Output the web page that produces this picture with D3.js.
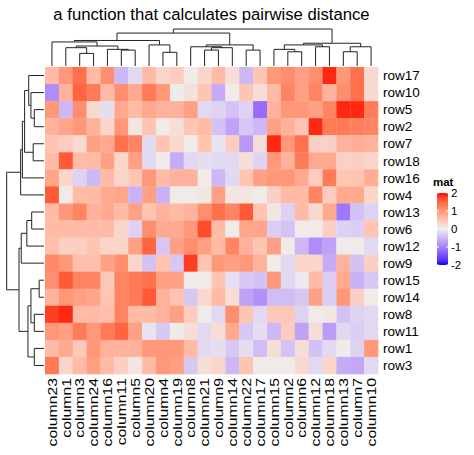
<!DOCTYPE html>
<html>
<head>
<meta charset="utf-8">
<script src="https://cdn.jsdelivr.net/npm/d3@7"></script>
<style>
  body { margin: 0; background: #fff; }
  text { font-family: "Liberation Sans", Arial, Helvetica, sans-serif; fill: #000; }
</style>
</head>
<body>
<svg width="474" height="455"></svg>
<script>
const titleText = 'a function that calculates pairwise distance'

const rowNames = ['row17', 'row10', 'row5', 'row2', 'row7', 'row18', 'row16', 'row4', 'row13',
    'row6', 'row12', 'row9', 'row15', 'row14', 'row8', 'row11', 'row1', 'row3']

const colNames = ['column23', 'column1', 'column3', 'column24', 'column16', 'column11', 'column5',
    'column20', 'column4', 'column19', 'column8', 'column21', 'column9', 'column14', 'column22',
    'column17', 'column15', 'column2', 'column6', 'column12', 'column18', 'column13', 'column7', 'column10']

// one array per row, columns in display order
const values = [
    [0.6, 1.0, 1.4, 0.6, 1.1, -0.5, -0.2, 0.6, 0.3, 0.4, 0.05, 0.3, 0.6, 0.2, -0.5, 0.5, 1.0, 1.1, 0.9, 1.1, 1.9, 1.0, 1.4, 0.25],
    [-0.9, 0.7, 1.5, 1.3, 0.6, 1.1, 0.8, 1.3, 1.0, 0.05, 0.15, 0.5, -0.6, 0.05, 0.5, 0.2, 0.6, 1.2, 0.9, 1.2, 0.7, 1.1, 1.4, 0.25],
    [1.0, -0.5, 1.1, 0.25, -0.15, 0.8, 0.6, 0.8, 0.7, 0.7, 0.9, -0.2, -0.25, -0.4, -0.25, -1.2, 0.7, 1.0, 1.0, 0.9, 1.2, 1.9, 1.9, 1.3],
    [0.7, 0.85, 1.0, 0.7, 0.3, 1.0, 0.1, 0.5, 0.05, 0.2, 0.5, 0.6, -0.4, -0.7, -0.35, -0.5, 0.9, 0.7, 0.5, 1.9, 1.3, 1.3, 1.25, 1.2],
    [0.5, 0.4, 0.25, 0.9, 0.8, 1.4, 1.2, -0.2, 0.5, 0.25, 0.05, 0.5, -0.1, 0.4, -0.8, 0.2, 1.9, 1.0, 1.4, 0.35, 0.35, 0.7, 0.75, 0.7],
    [0.6, 1.6, 0.6, 0.6, 0.9, 0.3, 0.9, -0.2, 0.05, -0.6, -0.2, -0.15, -0.2, -0.2, 0.2, -0.25, 1.0, 0.7, 1.3, 0.8, 0.8, 0.35, 0.35, 0.3],
    [0.85, 0.3, -0.25, -0.5, 0.6, 0.3, 0.5, 1.0, 0.6, 0.7, 0.7, 0.05, -0.5, -0.2, 0.5, 0.9, 1.0, 1.0, 0.8, 0.4, 1.3, 0.5, 0.5, 0.75],
    [1.6, 0.05, 0.6, 0.6, 0.8, 0.85, -0.55, 0.9, -0.55, 0.05, 0.05, 0.1, 0.9, 0.1, 0.1, 0.05, 0.35, 0.6, 0.6, 1.2, 0.4, 0.8, 0.8, 0.3],
    [0.6, 1.0, 1.2, 0.7, 0.8, 0.6, 0.9, 0.5, 0.7, 0.6, 0.7, 1.1, 1.4, 1.2, 1.6, 0.5, 0.1, -0.25, 0.6, 0.25, 0.8, -1.1, -0.4, -0.25],
    [0.6, 0.6, 0.6, 0.6, 0.6, 0.3, -0.25, 1.1, 0.8, 0.8, 1.0, 1.7, 0.6, 0.05, 0.85, 0.85, -0.3, -0.4, 0.05, 0.05, 0.35, -0.25, -0.3, 0.5],
    [0.55, 0.35, 0.35, 0.5, 0.3, 0.3, 0.9, 1.5, -0.35, 0.9, 1.1, 0.9, 0.6, 1.2, 0.7, 0.5, 0.9, 0.05, -0.5, -0.9, -0.7, 0.05, 0.05, -0.2],
    [1.15, 1.0, 0.55, 0.55, 0.9, 1.1, 0.3, -0.4, 0.5, -0.35, 1.8, 0.5, 1.0, 0.9, 1.0, 0.7, 0.05, -0.2, 0.3, 0.3, -0.6, 0.7, -0.4, 0.35],
    [1.1, 1.6, 1.2, 1.2, 0.45, 1.2, 1.3, 1.4, 0.9, 0.9, 0.05, 0.05, 0.5, -0.15, -0.35, -0.4, 1.0, -0.2, -0.05, 0.6, -0.3, 0.8, -0.55, -0.35],
    [0.7, 1.0, 0.9, 0.85, 0.5, 1.2, 1.3, 1.6, 0.7, 0.5, -0.35, 0.25, 0.6, 0.2, -0.7, -0.85, -0.45, -0.45, -0.35, 0.9, -0.3, 1.0, 0.35, 0.05],
    [1.8, 1.9, 0.6, 0.6, 0.55, 1.2, 0.6, 0.6, 0.7, 0.9, 0.4, 0.05, -0.2, 1.1, 0.5, -0.2, 0.45, 0.45, -0.25, 0.05, 0.1, -0.4, -0.25, -0.2],
    [1.0, 0.9, 1.3, 1.0, 1.3, 1.5, 0.9, -0.1, -0.35, 0.05, 0.2, -0.2, 0.2, 0.8, -0.35, -0.15, -0.5, 0.4, -0.7, 0.2, -0.75, -0.2, -0.3, -0.2],
    [0.6, 0.8, 0.45, 1.0, 0.7, 0.7, 0.7, 1.0, 1.0, 1.0, 0.6, -0.2, -0.15, -0.35, -0.15, -0.45, 0.2, -0.4, 0.2, -0.4, -0.2, 0.05, -0.25, 1.0],
    [1.3, 0.3, 0.6, 0.9, 0.6, 0.35, 0.1, 0.6, 1.0, 0.9, -0.35, 0.2, 0.3, -0.5, 0.5, 0.05, 0.05, 0.05, 0.25, -0.2, 0.3, -0.6, -0.65, -0.2]
]

// dendrograms: [height, left, right], leaves are display positions
const colTree = [10,
    [8.9,
        [6.9,
            [6.5, 0, [5.4, [4.95, 1, [3.4, 2, 3]], [4.5, 4, [4.3, 5, 6]]]],
            [5.7, 7, [3.7, 8, 9]]],
        [5.7,
            [5.2, 10, [4.95, [4.3, 11, 12], 13]],
            [4.3, 14, 15]]],
    [6.15,
        [5.7, [4.5, 16, [3.85, 17, 18]], [5.2, 19, 20]],
        [5.2, [3.85, 21, 22], 23]]]

const rowTree = [10,
    [6.26,
        [5.8, [5.2, [4.1, 0, [3.5, 1, [2.6, 2, 3]]], [2.9, 4, 5]], 6],
        7],
    [6.7,
        [6.1, [4.6, [3.3, 8, 9], 10], 11],
        [4.3, [3.5, [1.3, 12, 13], [2.6, 14, 15]], [2.6, 16, 17]]]]

const legendBreaks = [-2, -1, 0, 1, 2]
const legendTitle = 'mat'

const svg = d3.select('svg')
svg.append('rect').attr('width', 474).attr('height', 455).attr('fill', '#fff')

const hmLeft = 45, hmRight = 378, hmTop = 67, hmBottom = 374

const x = d3.scaleBand().domain(d3.range(colNames.length)).range([hmLeft, hmRight])
const y = d3.scaleBand().domain(d3.range(rowNames.length)).range([hmTop, hmBottom])

const color = d3.scaleLinear()
    .domain([-2, 0, 2])
    .range(['blue', '#EEEEEE', 'red'])
    .interpolate(d3.interpolateLab)
    .clamp(true)

// cells
const cells = []
values.forEach((row, i) => row.forEach((v, j) => cells.push({i, j, v})))

svg.append('g')
    .selectAll('rect')
    .data(cells)
    .join('rect')
        .attr('x', d => x(d.j))
        .attr('y', d => y(d.i))
        .attr('width', x.bandwidth() + 0.3)
        .attr('height', y.bandwidth() + 0.3)
        .attr('fill', d => color(d.v))

// dendrogram helper: returns segments for a nested [h, a, b] tree
function dendroSegments(tree, leafPos) {
    const segs = []
    function walk(node) {
        if (typeof node === 'number') return {p: leafPos(node), h: 0}
        const a = walk(node[1]), b = walk(node[2])
        segs.push({p1: a.p, h1: a.h, p2: b.p, h2: b.h, h: node[0]})
        return {p: (a.p + b.p) / 2, h: node[0]}
    }
    walk(tree)
    return segs
}

const colH = d3.scaleLinear().domain([0, 10]).range([66, 29])
const colSegs = dendroSegments(colTree, k => x(k) + x.bandwidth() / 2)

svg.append('g')
    .selectAll('path')
    .data(colSegs)
    .join('path')
        .attr('fill', 'none')
        .attr('stroke', '#222')
        .attr('stroke-width', 1)
        .attr('d', d => `M${d.p1},${colH(d.h1)}V${colH(d.h)}H${d.p2}V${colH(d.h2)}`)

const rowH = d3.scaleLinear().domain([0, 10]).range([44, 6.7])
const rowSegs = dendroSegments(rowTree, k => y(k) + y.bandwidth() / 2)

svg.append('g')
    .selectAll('path')
    .data(rowSegs)
    .join('path')
        .attr('fill', 'none')
        .attr('stroke', '#222')
        .attr('stroke-width', 1)
        .attr('d', d => `M${rowH(d.h1)},${d.p1}H${rowH(d.h)}V${d.p2}H${rowH(d.h2)}`)

// row labels
svg.append('g')
    .selectAll('text')
    .data(rowNames)
    .join('text')
        .attr('x', hmRight + 5)
        .attr('y', (d, i) => y(i) + y.bandwidth() / 2)
        .attr('dy', '0.35em')
        .style('font-size', '13.5px')
        .text(d => d)

// column labels (slightly stretched along their length, as in the reference)
svg.append('g')
    .selectAll('text')
    .data(colNames)
    .join('text')
        .attr('transform', (d, i) => `translate(${x(i) + x.bandwidth() / 2},${hmBottom + 4}) rotate(-90) scale(1.17,1)`)
        .attr('text-anchor', 'end')
        .attr('dy', '0.35em')
        .style('font-size', '13.5px')
        .text(d => d)

// title
svg.append('text')
    .attr('x', (hmLeft + hmRight) / 2)
    .attr('y', 20)
    .attr('text-anchor', 'middle')
    .style('font-size', '16.7px')
    .text(titleText)

// legend
const lg = svg.append('g')
const barX = 437, barW = 11
const ly = d3.scaleLinear().domain([-2, 2]).range([265, 193])

lg.append('text')
    .attr('x', 433)
    .attr('y', 186)
    .style('font-size', '11.5px')
    .style('font-weight', 700)
    .text(legendTitle)

const grad = svg.append('defs').append('linearGradient')
    .attr('id', 'lgrad')
    .attr('x1', 0).attr('x2', 0).attr('y1', 1).attr('y2', 0)
grad.selectAll('stop')
    .data(d3.range(-2, 2.01, 0.25))
    .join('stop')
        .attr('offset', d => (d + 2) / 4)
        .attr('stop-color', d => color(d))

lg.append('rect')
    .attr('x', barX)
    .attr('y', ly(2))
    .attr('width', barW)
    .attr('height', ly(-2) - ly(2))
    .attr('fill', 'url(#lgrad)')

lg.selectAll('.tk')
    .data(legendBreaks)
    .join('g')
    .each(function(d) {
        const g = d3.select(this)
        g.append('line').attr('x1', barX).attr('x2', barX + 2)
            .attr('y1', ly(d)).attr('y2', ly(d)).attr('stroke', '#fff')
        g.append('line').attr('x1', barX + barW - 2).attr('x2', barX + barW)
            .attr('y1', ly(d)).attr('y2', ly(d)).attr('stroke', '#fff')
        g.append('text').attr('x', barX + barW + 3).attr('y', ly(d))
            .attr('dy', '0.35em')
            .style('font-size', '11.5px')
            .text(d)
    })
</script>
</body>
</html>
